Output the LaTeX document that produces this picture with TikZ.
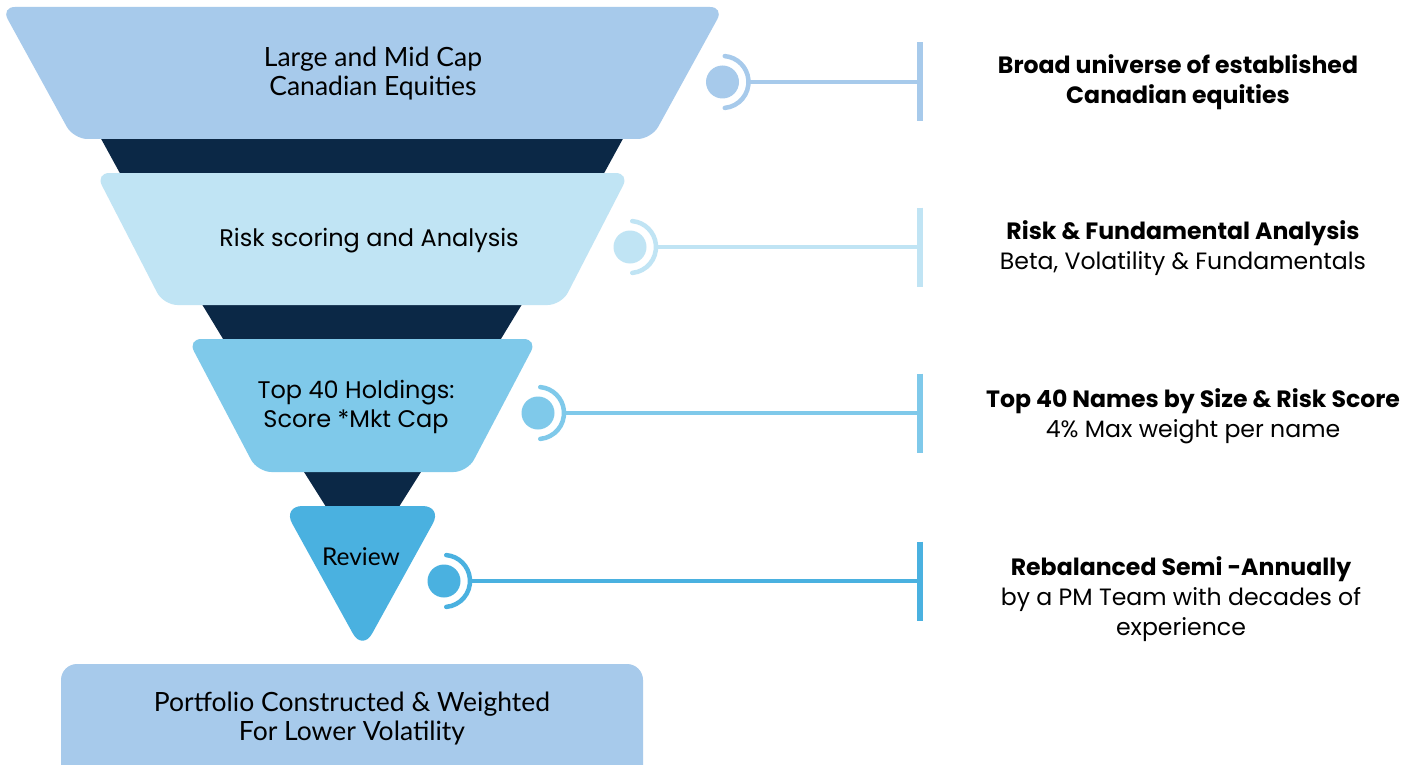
\documentclass[tikz,border=0pt]{standalone}
\usepackage{fontspec}
\setmainfont{Poppins}
\newfontfamily\lfont{Lato}
\definecolor{cA}{HTML}{A7CAEB}
\definecolor{cB}{HTML}{C0E4F4}
\definecolor{cC}{HTML}{7FC9EA}
\definecolor{cD}{HTML}{4AB1E0}
\definecolor{navy}{HTML}{0B2846}
\begin{document}
\begin{tikzpicture}[x=1pt,y=-1pt,
  dot/.style={circle,fill=#1,inner sep=0pt,minimum size=33pt},
  ring/.style={draw=#1,line width=4.5pt,line cap=round},
  conn/.style={draw=#1,line width=4pt},
  barline/.style={draw=#1,line width=6pt},
  laytext/.style={align=center,font=\lfont\fontsize{26.5}{29}\selectfont,text=black},
  laytextb/.style={align=center,font=\fontsize{24}{29}\selectfont,text=black},
  righttext/.style={align=center,font=\fontsize{23.6}{30}\selectfont,text=black}]
\clip (0,0) rectangle (1413,765);
\fill[white] (0,0) rectangle (1413,765);
% dark bands
\fill[navy] (99,135) -- (625,135) -- (602,177) -- (122,177) -- cycle;
\fill[navy] (200,301) -- (524,301) -- (498.5,343) -- (225.5,343) -- cycle;
\fill[navy] (301.5,468) -- (423.5,468) -- (397,510) -- (328,510) -- cycle;
% layers
\fill[cA,rounded corners=14] (1,7) -- (724,7) -- (651.5,139) -- (73.5,139) -- cycle;
\fill[cB,rounded corners=14] (95.5,173) -- (629.5,173) -- (561.5,305) -- (163.5,305) -- cycle;
\fill[cC,rounded corners=14] (187.5,339) -- (537.5,339) -- (467.5,472) -- (257.5,472) -- cycle;
\fill[cD,rounded corners=20] (282.5,506) -- (442.5,506) -- (362.5,651) -- cycle;
\fill[cA,rounded corners=16] (61,664) rectangle (643,800);
% layer texts
\node[laytext] (l1) at (373,74) {Large and Mid Cap\\Canadian Equities};
\node[laytextb] (l2) at (369,241) {Risk scoring and Analysis};
\node[laytextb] (l3) at (356,407) {Top 40 Holdings:\\Score *Mkt Cap};
\node[laytext,font=\lfont\fontsize{24.5}{29}\selectfont] (l4) at (361,556.5) {Review};
\node[laytext] (l5) at (352,719) {Portfolio Constructed \& Weighted\\For Lower Volatility};
% markers
\foreach \n/\c/\x/\y in {1/cA/722.5/82, 2/cB/630/247, 3/cC/538/413, 4/cD/444/581}{
  \node[dot=\c] (m\n) at (\x,\y) {};
  \coordinate (b\n) at (920,\y);
  \draw[ring=\c] (m\n.center) ++(-85:26pt) arc[start angle=-85,end angle=85,radius=26pt];
  \draw[conn=\c] ([xshift=26pt]m\n.center) -- (b\n);
  \draw[barline=\c] ([yshift=39.5pt]b\n) -- ([yshift=-39.5pt]b\n);
}
% right texts
\node[righttext] (t1) at (1178,82) {\bfseries Broad universe of established\\\bfseries Canadian equities};
\node[righttext] (t2) at (1183,248) {\bfseries Risk \& Fundamental Analysis\\Beta, Volatility \& Fundamentals};
\node[righttext] (t3) at (1193,416) {\bfseries Top 40 Names by Size \& Risk Score\\4\% Max weight per name};
\node[righttext] (t4) at (1181,599) {\bfseries Rebalanced Semi -Annually\\by a PM Team with decades of\\experience};
\end{tikzpicture}
\end{document}
